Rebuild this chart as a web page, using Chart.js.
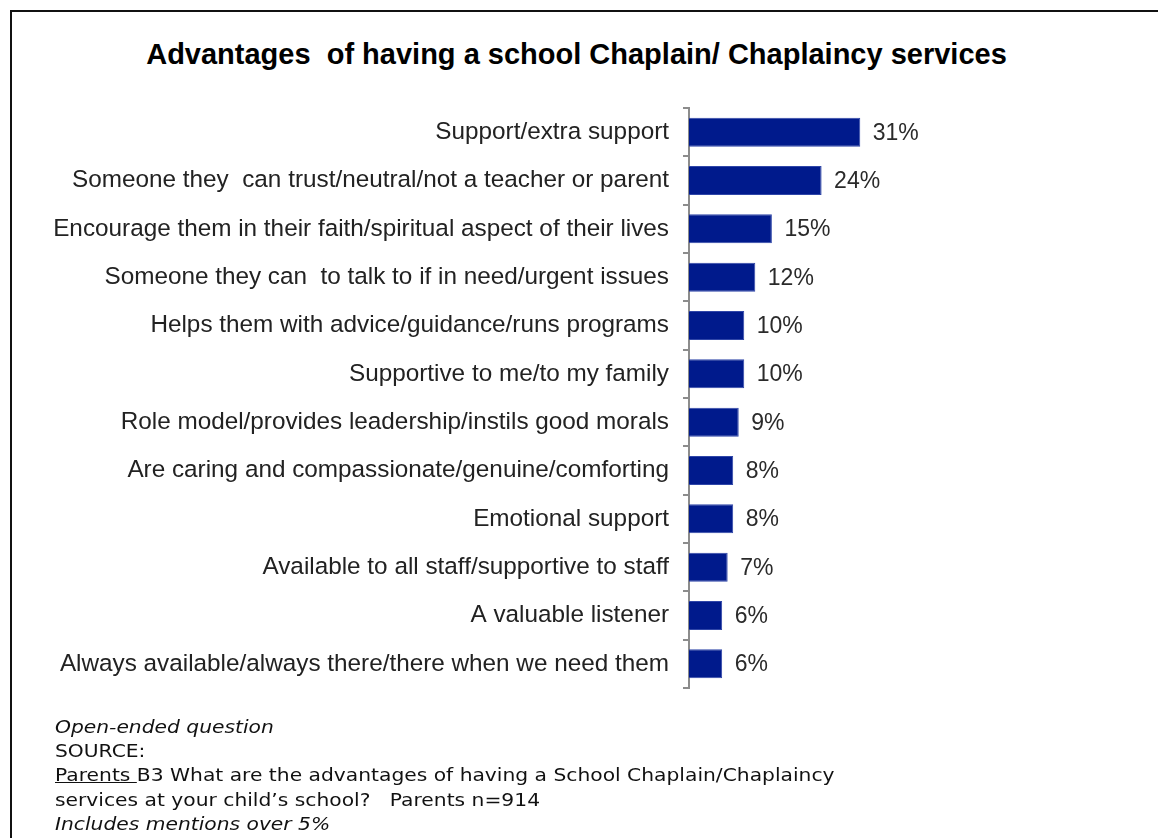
<!DOCTYPE html>
<html>
<head>
<meta charset="utf-8">
<script src="https://cdn.jsdelivr.net/npm/chart.js@4/dist/chart.umd.min.js"></script>
<style>
  html, body { margin: 0; padding: 0; background: #fff; }
  #wrap { position: relative; width: 1158px; height: 838px; overflow: hidden; }
  #frame { position: absolute; left: 10px; top: 10px; right: -20px; bottom: -20px; border: 2px solid #111; }
  #title { position: absolute; left: 0; width: 1153px; top: 38px; text-align: center; line-height: 33px;
           font: bold 29px "Liberation Sans", Arial, sans-serif; color: #000; white-space: pre; }
  #notes { position: absolute; left: 55px; top: 715px; font: 18px "DejaVu Sans", sans-serif;
           line-height: 24.2px; color: #111; white-space: pre;
           transform: scaleX(1.125); transform-origin: 0 0; }
  #notes .i { font-style: italic; }
  #notes u { text-decoration: underline; }
  canvas { position: absolute; left: 0; top: 0; }
</style>
</head>
<body>
<div id="wrap">
  <div id="frame"></div>
  <div id="title">Advantages  of having a school Chaplain/ Chaplaincy services</div>
  <div style="position:absolute;left:0;top:0;width:1158px;height:838px;"><canvas id="c"></canvas></div>
  <div id="notes"><span class="i">Open-ended question</span>
SOURCE:
<u>Parents </u>B3 What are the advantages of having a School Chaplain/Chaplaincy
services at your child’s school?   Parents n=914
<span class="i">Includes mentions over 5%</span></div>
</div>
<script>
// Mentions of each advantage, percent of parents
const categories = [
  "Support/extra support",
  "Someone they  can trust/neutral/not a teacher or parent",
  "Encourage them in their faith/spiritual aspect of their lives",
  "Someone they can  to talk to if in need/urgent issues",
  "Helps them with advice/guidance/runs programs",
  "Supportive to me/to my family",
  "Role model/provides leadership/instils good morals",
  "Are caring and compassionate/genuine/comforting",
  "Emotional support",
  "Available to all staff/supportive to staff",
  "A valuable listener",
  "Always available/always there/there when we need them"
];
const percentages = [31, 24, 15, 12, 10, 10, 9, 8, 8, 7, 6, 6];

// Writes the percentage just past the end of each bar
const valueLabels = {
  id: 'valueLabels',
  afterDatasetsDraw(chart) {
    const ctx = chart.ctx;
    const meta = chart.getDatasetMeta(0);
    ctx.save();
    ctx.font = '23px "Liberation Sans", Arial, sans-serif';
    ctx.fillStyle = '#2a2a2a';
    ctx.textAlign = 'left';
    ctx.textBaseline = 'middle';
    meta.data.forEach((bar, i) => {
      ctx.fillText(chart.data.datasets[0].data[i] + '%', bar.x + 12.5, bar.y + 1);
    });
    ctx.restore();
  }
};

new Chart(document.getElementById('c'), {
  type: 'bar',
  data: {
    labels: categories,
    datasets: [{
      data: percentages,
      backgroundColor: '#001a8c',
      borderColor: '#2f46a8',
      borderWidth: 1,
      barPercentage: 0.6,
      categoryPercentage: 1
    }]
  },
  options: {
    indexAxis: 'y',
    responsive: true,
    maintainAspectRatio: false,
    animation: false,
    layout: { padding: { top: 108, bottom: 150, left: 0, right: 248 } },
    plugins: { legend: { display: false }, tooltip: { enabled: false } },
    scales: {
      x: { display: false, min: 0, max: 40 },
      y: {
        afterFit(scale) { scale.width = 689; },
        border: { display: true, color: '#8c8c8c', width: 2 },
        grid: { display: true, drawOnChartArea: false, drawTicks: true, tickLength: 6,
                color: '#8c8c8c', lineWidth: 2, offset: true },
        ticks: {
          padding: 14,
          color: '#222',
          font: { family: '"Liberation Sans", Arial, sans-serif', size: 24.3 }
        }
      }
    }
  },
  plugins: [valueLabels]
});
</script>
</body>
</html>
